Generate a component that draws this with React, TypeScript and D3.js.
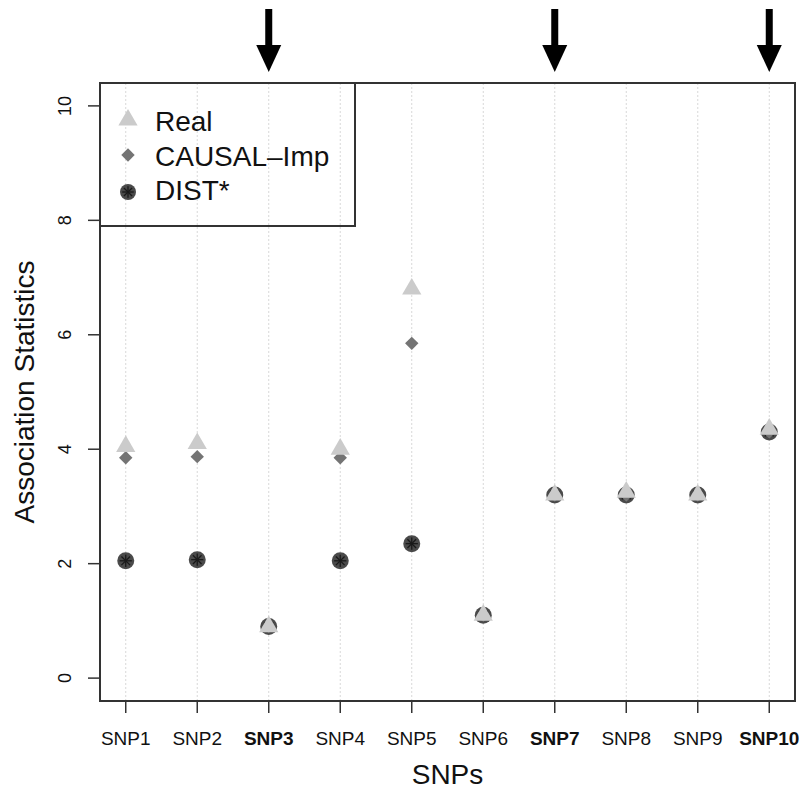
import * as d3 from 'd3'

const snps = ['SNP1', 'SNP2', 'SNP3', 'SNP4', 'SNP5', 'SNP6', 'SNP7', 'SNP8', 'SNP9', 'SNP10']
const boldSnps = ['SNP3', 'SNP7', 'SNP10']
const real = [4.05, 4.1, 0.9, 4.0, 6.8, 1.1, 3.2, 3.25, 3.2, 4.35]
const causalImp = [3.85, 3.87, 0.9, 3.85, 5.85, 1.1, 3.2, 3.2, 3.2, 4.3]
const dist = [2.05, 2.07, 0.9, 2.05, 2.35, 1.1, 3.2, 3.2, 3.2, 4.3]
const yTicks = [0, 2, 4, 6, 8, 10]
const legendItems = ['Real', 'CAUSAL\u2013Imp', 'DIST*']

const font = 'Liberation Sans, Arial, Helvetica, sans-serif'
const box = { left: 100, right: 795, top: 83, bottom: 701 }

const xScale = d3.scaleLinear().domain([0.64, 10.36]).range([box.left, box.right])
const yScale = d3.scaleLinear().domain([-0.4, 10.4]).range([box.bottom, box.top])

const triangle = d3.symbol().type(d3.symbolTriangle).size(160)()
const diamond = d3.symbol().type(d3.symbolSquare).size(90)()

const Triangle = ({ x, y }) => (
  <path d={triangle} transform={`translate(${x},${y})`} fill="#cbcbcb" />
)
const Diamond = ({ x, y }) => (
  <path d={diamond} transform={`translate(${x},${y}) rotate(45)`} fill="#747474" />
)
const Star = ({ x, y, r = 8.5 }) => {
  const s = r * 0.72
  return (
    <g transform={`translate(${x},${y})`}>
      <circle r={r} fill="#4a4a4a" />
      {[0, 45, 90, 135].map(a => (
        <line
          key={a}
          x1={-s}
          x2={s}
          y1={0}
          y2={0}
          transform={`rotate(${a})`}
          stroke="#1a1a1a"
          strokeWidth="1.3"
        />
      ))}
    </g>
  )
}

const Arrow = ({ x }) => (
  <g>
    <rect x={x - 3.5} y={9} width={7} height={38} fill="#000" />
    <path d={`M${x - 12.5},45 L${x + 12.5},45 L${x},72 Z`} fill="#000" />
  </g>
)

export default function App() {
  const idx = d3.range(snps.length)
  return (
    <svg
      width={801}
      height={791}
      style={{ position: 'absolute', left: 0, top: 0, background: '#fff' }}
      fontFamily={font}
    >
      {/* grid */}
      {idx.map(i => (
        <line
          key={i}
          x1={xScale(i + 1)}
          x2={xScale(i + 1)}
          y1={box.top}
          y2={box.bottom}
          stroke="#d8d8d8"
          strokeWidth="1"
          strokeDasharray="2,2"
        />
      ))}

      {/* points */}
      {idx.map(i => (
        <Star key={'d' + i} x={xScale(i + 1)} y={yScale(dist[i])} />
      ))}
      {idx.map(i => (
        <Diamond key={'c' + i} x={xScale(i + 1)} y={yScale(causalImp[i])} />
      ))}
      {idx.map(i => (
        <Triangle key={'r' + i} x={xScale(i + 1)} y={yScale(real[i])} />
      ))}

      {/* plot box */}
      <rect
        x={box.left}
        y={box.top}
        width={box.right - box.left}
        height={box.bottom - box.top}
        fill="none"
        stroke="#333"
        strokeWidth="2"
      />

      {/* legend */}
      <rect x={box.left} y={box.top} width={255} height={143} fill="none" stroke="#333" strokeWidth="2" />
      <Triangle x={128} y={120} />
      <Diamond x={128} y={155} />
      <Star x={128} y={192} r={8} />
      {legendItems.map((label, i) => (
        <text key={label} x={155} y={131 + i * 34.5} fontSize="28" fill="#111">
          {label}
        </text>
      ))}

      {/* x axis */}
      {idx.map(i => (
        <g key={'xt' + i} transform={`translate(${xScale(i + 1)},0)`}>
          <line y1={box.bottom} y2={box.bottom + 12} stroke="#333" strokeWidth="1.5" />
          <text
            y={745}
            textAnchor="middle"
            fontSize="19"
            fontWeight={boldSnps.includes(snps[i]) ? 'bold' : 'normal'}
            fill="#111"
          >
            {snps[i]}
          </text>
        </g>
      ))}
      <text x={(box.left + box.right) / 2} y={784} textAnchor="middle" fontSize="28" fill="#111">
        SNPs
      </text>

      {/* y axis */}
      {yTicks.map(t => (
        <g key={t} transform={`translate(0,${yScale(t)})`}>
          <line x1={box.left - 12} x2={box.left} stroke="#333" strokeWidth="1.5" />
          <text transform="translate(71,0) rotate(-90)" textAnchor="middle" fontSize="18" fill="#111">
            {t}
          </text>
        </g>
      ))}
      <text
        transform={`translate(34,${(box.top + box.bottom) / 2}) rotate(-90)`}
        textAnchor="middle"
        fontSize="28"
        fill="#111"
      >
        Association Statistics
      </text>

      {/* arrows */}
      {boldSnps.map(s => (
        <Arrow key={s} x={xScale(snps.indexOf(s) + 1)} />
      ))}
    </svg>
  )
}
